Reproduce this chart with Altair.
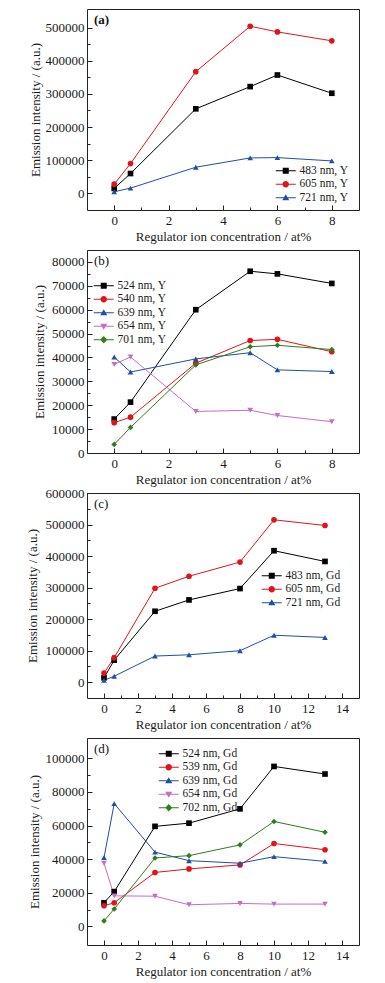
import altair as alt
import pandas as pd

# ---------------- data ----------------
X_Y = [0, 0.6, 3, 5, 6, 8]
X_GD = [0, 0.6, 3, 5, 8, 10, 13]

A_NAMES = ["483 nm, Y", "605 nm, Y", "721 nm, Y"]
A_VALS = [
    [15000, 60000, 255000, 322000, 357000, 302000],
    [28000, 90000, 367000, 504000, 487000, 460000],
    [5000, 16000, 79000, 107000, 108000, 98000],
]

B_NAMES = ["524 nm, Y", "540 nm, Y", "639 nm, Y", "654 nm, Y", "701 nm, Y"]
B_VALS = [
    [14200, 21300, 60000, 76100, 75000, 71000],
    [12700, 15000, 37600, 47100, 47600, 42400],
    [40200, 33900, 39400, 42000, 34800, 34100],
    [37100, 40200, 17400, 17900, 15700, 13100],
    [3600, 10700, 36900, 44500, 45100, 43300],
]

C_NAMES = ["483 nm, Gd", "605 nm, Gd", "721 nm, Gd"]
C_VALS = [
    [14000, 70000, 225000, 261000, 297000, 417000, 383000],
    [29000, 78000, 298000, 336000, 381000, 515000, 497000],
    [6000, 19000, 83000, 87000, 100000, 149000, 142000],
]

D_NAMES = ["524 nm, Gd", "539 nm, Gd", "639 nm, Gd", "654 nm, Gd", "702 nm, Gd"]
D_VALS = [
    [14100, 20700, 59500, 61400, 69900, 95100, 90600],
    [12300, 14100, 32100, 34200, 36600, 49300, 45600],
    [40900, 73000, 44200, 39100, 37600, 41500, 38700],
    [37600, 18200, 18000, 12900, 13700, 13300, 13300],
    [3300, 10400, 40700, 42100, 48500, 62400, 56000],
]

COLORS3 = ["#000000", "#e2141b", "#1f4fa3"]
COLORS5 = ["#000000", "#e2141b", "#1f4fa3", "#c46ec4", "#2f7d1c"]
SHAPES3 = ["square", "circle", "triangle-up"]
SHAPES5 = ["square", "circle", "triangle-up", "triangle-down", "diamond"]

LINE = "M-3,-0.1H1V0.1H-3Z "
P_SQUARE = LINE + "M-1.6,-0.6H-0.4V0.6H-1.6Z"
P_CIRCLE = LINE + "M-1.65,0A0.65,0.65 0 1,1 -0.35,0A0.65,0.65 0 1,1 -1.65,0Z"
P_TUP = LINE + "M-1,-0.7L-0.3,0.5L-1.7,0.5Z"
P_TDN = LINE + "M-1,0.7L-1.7,-0.5L-0.3,-0.5Z"
P_DIA = LINE + "M-1,-0.75L-0.3,0L-1,0.75L-1.7,0Z"
PATHS3 = [P_SQUARE, P_CIRCLE, P_TUP]
PATHS5 = [P_SQUARE, P_CIRCLE, P_TUP, P_TDN, P_DIA]

FONT = "Liberation Serif"
XTITLE = "Regulator ion concentration / at%"
YTITLE = "Emission intensity / (a.u.)"


def make_df(xs, names, vals):
    rows = []
    for n, v in zip(names, vals):
        for x, y in zip(xs, v):
            rows.append({"x": x, "y": y, "s": n})
    return pd.DataFrame(rows)


def panel(df, names, colors, shapes, paths, xdom, xmaj, xmin, ydom, ymaj, ymin,
          h, tx, lx, ly, label, bold):
    xs = alt.Scale(domain=xdom, nice=False, zero=False)
    ys = alt.Scale(domain=ydom, nice=False, zero=False)
    cs = alt.Scale(domain=names, range=colors)
    base = alt.Chart(df)

    lines = base.mark_line(strokeWidth=1).encode(
        x=alt.X("x:Q", scale=xs, axis=alt.Axis(
            orient="bottom", values=xmaj, ticks=False, domain=False, grid=False,
            title=XTITLE, labelPadding=4, titlePadding=3)),
        y=alt.Y("y:Q", scale=ys, axis=alt.Axis(
            orient="left", values=ymaj, format="d", ticks=False, domain=False,
            grid=False, title=YTITLE, labelPadding=3, titleX=tx,
            titleBaseline="middle")),
        color=alt.Color("s:N", scale=cs, legend=None),
    )

    def tick_axis(orient, vals, size):
        return alt.Axis(orient=orient, values=vals, ticks=True, tickSize=size,
                        offset=-size, labels=False, domain=False, grid=False,
                        title=None)

    points = base.mark_point(filled=True, size=32, opacity=1).encode(
        x=alt.X("x:Q", scale=xs, axis=tick_axis("bottom", xmaj, 5)),
        y=alt.Y("y:Q", scale=ys, axis=tick_axis("left", ymaj, 5)),
        color=alt.Color("s:N", scale=cs, legend=None),
        shape=alt.Shape("s:N", scale=alt.Scale(domain=names, range=shapes), legend=None),
    )

    minor = base.mark_point(opacity=0).encode(
        x=alt.X("x:Q", scale=xs, axis=tick_axis("bottom", xmin, 3)),
        y=alt.Y("y:Q", scale=ys, axis=tick_axis("left", ymin, 3)),
    )

    leg_kw = dict(orient="none", legendX=lx, legendY=ly, title=None,
                  labelFont=FONT, labelFontSize=11.5, symbolSize=100,
                  padding=0, rowPadding=0.5, labelOffset=3, symbolStrokeWidth=0)
    leg = base.transform_filter("false").mark_point(filled=True, opacity=1).encode(
        x=alt.X("x:Q", scale=xs, axis=None),
        y=alt.Y("y:Q", scale=ys, axis=None),
        color=alt.Color("s:N", scale=alt.Scale(domain=names, range=colors),
                        legend=alt.Legend(**leg_kw)),
        shape=alt.Shape("s:N", scale=alt.Scale(domain=names, range=paths),
                        legend=alt.Legend(**leg_kw)),
    )

    txt = alt.Chart(pd.DataFrame({"t": [label]})).mark_text(
        align="left", baseline="middle", font=FONT, fontSize=13,
        fontWeight="bold" if bold else "normal", color="#111"
    ).encode(x=alt.value(7), y=alt.value(11), text="t:N")

    return alt.layer(lines, points, minor, leg, txt).resolve_scale(
        color="independent", shape="independent"
    ).resolve_axis(x="independent", y="independent").properties(width=272, height=h)


pa = panel(make_df(X_Y, A_NAMES, A_VALS), A_NAMES, COLORS3, SHAPES3, PATHS3,
           [-1, 9], [0, 2, 4, 6, 8], [1, 3, 5, 7],
           [-50000, 556000], [0, 100000, 200000, 300000, 400000, 500000],
           [50000, 150000, 250000, 350000, 450000],
           201, -52, 198, 156, "(a)", True)

pb = panel(make_df(X_Y, B_NAMES, B_VALS), B_NAMES, COLORS5, SHAPES5, PATHS5,
           [-1, 9], [0, 2, 4, 6, 8], [1, 3, 5, 7],
           [0, 85000], [0, 10000, 20000, 30000, 40000, 50000, 60000, 70000, 80000],
           [5000, 15000, 25000, 35000, 45000, 55000, 65000, 75000],
           203, -48, 16, 30, "(b)", False)

pc = panel(make_df(X_GD, C_NAMES, C_VALS), C_NAMES, COLORS3, SHAPES3, PATHS3,
           [-1, 15], [0, 2, 4, 6, 8, 10, 12, 14], [1, 3, 5, 7, 9, 11, 13],
           [-50000, 600000], [0, 100000, 200000, 300000, 400000, 500000, 600000],
           [50000, 150000, 250000, 350000, 450000, 550000],
           205, -55, 184, 77, "(c)", False)

pd_ = panel(make_df(X_GD, D_NAMES, D_VALS), D_NAMES, COLORS5, SHAPES5, PATHS5,
            [-1, 15], [0, 2, 4, 6, 8, 10, 12, 14], [1, 3, 5, 7, 9, 11, 13],
            [-11000, 112000], [0, 20000, 40000, 60000, 80000, 100000],
            [10000, 30000, 50000, 70000, 90000],
            207, -53, 81, 10, "(d)", False)

chart = alt.vconcat(pa, pb, pc, pd_, spacing=40, bounds="flush").properties(
    padding={"left": 17, "top": 0, "right": 0, "bottom": 0}
).configure_view(stroke="#222", strokeWidth=1).configure_axis(
    labelFont=FONT, titleFont=FONT, labelFontSize=13, titleFontSize=13,
    titleFontWeight="normal", labelColor="#1a1a1a", titleColor="#1a1a1a",
    tickColor="#222"
).configure_legend(labelColor="#1a1a1a")

chart.save("out.html", embed_options={"renderer": "svg", "actions": False})
